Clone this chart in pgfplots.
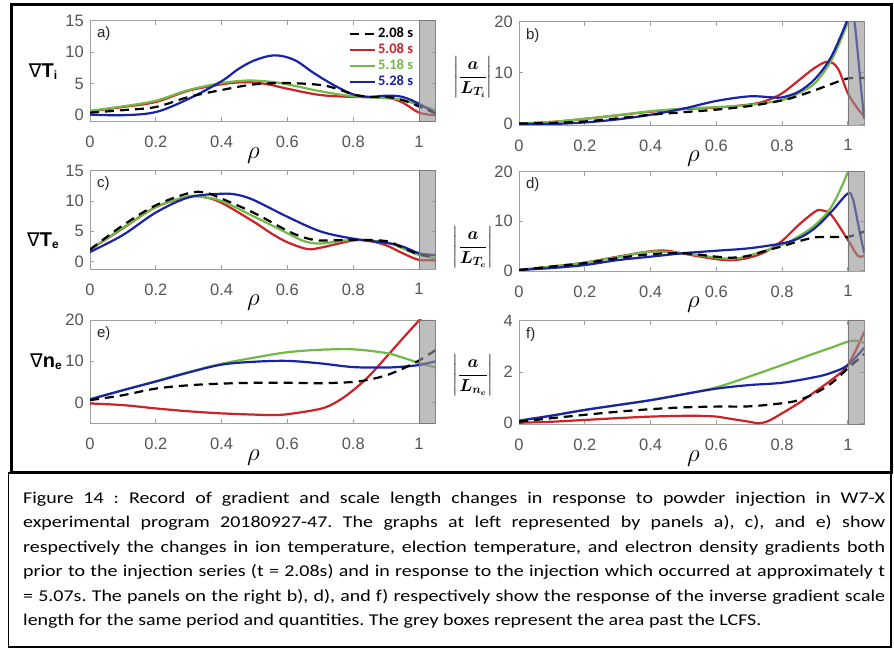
\documentclass[border=0pt]{standalone}
\usepackage{amsmath}
\usepackage{fontspec}
\setmainfont{Liberation Sans}
\newfontfamily\carlito{Carlito}
\newfontfamily\carlitowide[FakeStretch=1.21]{Carlito}
\newfontfamily\dejavu{DejaVu Sans}
\usepackage{pgfplots}
\pgfplotsset{compat=1.18}
\frenchspacing

\definecolor{cRed}{RGB}{205,35,40}
\definecolor{cGreen}{RGB}{115,185,70}
\definecolor{cBlue}{RGB}{25,35,165}
\definecolor{cBox}{RGB}{147,147,147}
\definecolor{cBoxEdge}{RGB}{120,120,120}
\definecolor{cAxis}{RGB}{160,160,160}
\definecolor{cTick}{RGB}{85,85,85}

\newcommand\capfont{\carlitowide\fontsize{16.5}{20}\selectfont}

\pgfplotsset{
  panel/.style={
    scale only axis,
    anchor=north west,
    xmin=0, xmax=1.05,
    xtick={0,0.2,0.4,0.6,0.8,1},
    tick align=inside,
    major tick length=4pt,
    axis line style={cAxis, line width=0.8pt},
    every tick/.style={cAxis, line width=0.8pt},
    tick label style={font=\fontsize{16.5}{16.5}\selectfont, text=cTick},
    /pgf/number format/assume math mode=true,
    xticklabel style={yshift=-11pt},
    yticklabel style={xshift=-2.7pt},
    xlabel={$\rho$},
    xlabel style={font=\fontsize{28}{28}\selectfont, anchor=base, yshift=-37pt},
    clip mode=individual,
  },
  leftpanel/.style={panel, width=345.5pt,
    xlabel style={at={(axis description cs:0.473,0)}}},
  rightpanel/.style={panel, width=345.3pt,
    xlabel style={at={(axis description cs:0.505,0)}}},
  curve/.style={line width=2.2pt, smooth, tension=0.55},
  s208/.style={curve, black, dash pattern=on 9pt off 6pt},
  s508/.style={curve, cRed},
  s518/.style={curve, cGreen},
  s528/.style={curve, cBlue},
  lcfs/.style={draw=cBoxEdge, line width=0.6pt, fill=cBox, fill opacity=0.6, forget plot, sharp plot},
}

\newcommand\panelletter[1]{\node[anchor=west, font=\fontsize{15}{15}\selectfont, text=black!85, inner sep=0]
  at (rel axis cs:0.02,0.87) {#1};}

\begin{document}
\begin{tikzpicture}
\useasboundingbox (0,0) rectangle (894pt,650pt);
\fill[white] (0,0) rectangle (894pt,650pt);

% ---------- a) ion temperature gradient ----------
\begin{axis}[leftpanel, at={(90pt,629.3pt)}, height=100.8pt,
  ymin=-1, ymax=15, ytick={0,5,10,15},
  legend style={draw=none, fill=none, at={(axis description cs:0.94,0.95)}, anchor=north east,
    font=\carlito\bfseries\fontsize{14.5}{14.5}\selectfont, inner sep=0pt,
    row sep=0pt, nodes={inner sep=1.5pt, text height=10pt, text depth=3pt}},
  legend cell align=left,
  legend image code/.code={\draw[#1] (0pt,0pt) -- (25pt,0pt);},
]
\addlegendimage{s208}\addlegendentry{2.08 s}
\addlegendimage{s508}\addlegendentry{\textcolor{cRed}{5.08 s}}
\addlegendimage{s518}\addlegendentry{\textcolor{cGreen}{5.18 s}}
\addlegendimage{s528}\addlegendentry{\textcolor{cBlue}{5.28 s}}
\addplot[s508, forget plot] coordinates {(0,0.6)(0.1,1.3)(0.2,2.1)(0.3,3.9)(0.4,4.9)(0.45,5.2)(0.5,5.2)(0.55,4.8)(0.6,4.2)(0.7,3.2)(0.8,2.9)(0.9,2.8)(0.95,2.0)(1.0,0.4)(1.05,0.0)};
\addplot[s518, forget plot] coordinates {(0,0.7)(0.1,1.4)(0.2,2.3)(0.3,4.0)(0.4,5.1)(0.48,5.5)(0.55,5.3)(0.6,4.9)(0.7,3.8)(0.8,3.0)(0.9,2.7)(0.95,2.4)(1.0,1.6)(1.05,0.8)};
\addplot[s528, forget plot] coordinates {(0,0.1)(0.1,0.0)(0.2,0.5)(0.3,2.6)(0.4,5.4)(0.45,7.3)(0.5,8.7)(0.56,9.5)(0.62,8.8)(0.68,6.7)(0.74,4.8)(0.8,3.3)(0.85,2.9)(0.9,3.1)(0.95,2.9)(1.0,1.8)(1.05,0.3)};
\addplot[s208, forget plot] coordinates {(0,0.4)(0.1,0.8)(0.2,1.3)(0.3,2.9)(0.4,4.0)(0.5,4.9)(0.6,5.1)(0.7,4.8)(0.75,4.2)(0.8,3.3)(0.85,2.9)(0.9,2.9)(0.95,2.4)(1.0,1.4)(1.05,0.3)};
\addplot[lcfs] coordinates {(1,-1)(1.05,-1)(1.05,15)(1,15)(1,-1)};
\panelletter{a)}
\end{axis}

% ---------- b) inverse scale length, ion temperature ----------
\begin{axis}[rightpanel, at={(519pt,628.3pt)}, height=103.3pt,
  ymin=-0.2, ymax=20, ytick={0,10,20}]
\addplot[s508] coordinates {(0,0.1)(0.1,0.4)(0.2,1.0)(0.3,1.7)(0.4,2.4)(0.5,2.9)(0.6,3.2)(0.7,3.8)(0.75,4.5)(0.8,6.0)(0.85,8.5)(0.9,11.0)(0.94,12.2)(0.97,10.8)(1.0,6.0)(1.03,3.0)(1.05,1.5)};
\addplot[s518] coordinates {(0,0.1)(0.1,0.4)(0.2,1.0)(0.3,1.7)(0.4,2.5)(0.5,3.0)(0.6,3.3)(0.7,3.7)(0.8,4.7)(0.85,6.0)(0.9,8.0)(0.95,12.5)(1.0,20)(1.02,26)};
\addplot[s528] coordinates {(0,0.0)(0.1,0.0)(0.2,0.3)(0.3,0.9)(0.4,1.8)(0.5,3.0)(0.6,4.5)(0.7,5.4)(0.77,5.2)(0.8,5.2)(0.85,6.3)(0.9,8.8)(0.95,13.2)(1.0,20.5)(1.01,22)(1.02,20)(1.03,14)(1.04,7)(1.05,1)};
\addplot[s208] coordinates {(0,0.1)(0.1,0.2)(0.2,0.5)(0.3,1.1)(0.4,1.8)(0.5,2.3)(0.6,2.8)(0.7,3.5)(0.8,4.6)(0.85,5.5)(0.9,6.6)(0.95,7.8)(1.0,8.9)(1.05,9.0)};
\addplot[lcfs] coordinates {(1,-0.2)(1.05,-0.2)(1.05,20)(1,20)(1,-0.2)};
\panelletter{b)}
\end{axis}

% ---------- c) electron temperature gradient ----------
\begin{axis}[leftpanel, at={(90pt,479.3pt)}, height=98.3pt,
  ymin=-1.2, ymax=15, ytick={0,5,10,15}]
\addplot[s508] coordinates {(0,2.0)(0.1,5.5)(0.2,9.0)(0.3,10.7)(0.35,10.6)(0.4,9.7)(0.5,6.5)(0.55,4.7)(0.6,3.2)(0.66,2.1)(0.7,2.3)(0.8,3.5)(0.85,3.4)(0.9,2.7)(0.95,1.4)(1.0,0.3)(1.05,0.3)};
\addplot[s518] coordinates {(0,2.0)(0.1,5.6)(0.2,9.0)(0.3,10.8)(0.35,10.6)(0.4,10.0)(0.5,7.4)(0.6,4.7)(0.65,3.4)(0.7,3.0)(0.8,3.6)(0.9,3.2)(0.95,2.2)(1.0,1.1)(1.05,0.6)};
\addplot[s528] coordinates {(0,1.6)(0.1,4.4)(0.2,8.1)(0.3,10.6)(0.4,11.2)(0.45,11.0)(0.5,10.1)(0.6,7.4)(0.7,5.0)(0.8,3.8)(0.9,3.1)(0.95,2.5)(1.0,1.4)(1.05,1.1)};
\addplot[s208] coordinates {(0,2.0)(0.1,6.0)(0.2,9.3)(0.3,11.3)(0.35,11.4)(0.4,10.4)(0.5,8.0)(0.6,5.1)(0.65,4.0)(0.7,3.5)(0.8,3.6)(0.9,3.4)(0.95,2.3)(1.0,1.2)(1.05,0.8)};
\addplot[lcfs] coordinates {(1,-1.2)(1.05,-1.2)(1.05,15)(1,15)(1,-1.2)};
\panelletter{c)}
\end{axis}

% ---------- d) inverse scale length, electron temperature ----------
\begin{axis}[rightpanel, at={(519pt,478.3pt)}, height=99.3pt,
  ymin=-0.1, ymax=20, ytick={0,10,20}]
\addplot[s508] coordinates {(0,0.1)(0.1,0.8)(0.2,1.6)(0.3,2.8)(0.4,3.9)(0.45,4.0)(0.5,3.4)(0.6,2.3)(0.65,2.1)(0.7,2.6)(0.75,3.8)(0.8,6.0)(0.85,9.2)(0.9,11.9)(0.92,12.2)(0.95,11.2)(1.0,6.2)(1.03,3.0)(1.05,3.0)};
\addplot[s518] coordinates {(0,0.1)(0.1,0.8)(0.2,1.6)(0.3,2.7)(0.4,3.8)(0.5,3.5)(0.6,2.6)(0.65,2.4)(0.7,3.0)(0.8,5.2)(0.85,6.9)(0.9,9.2)(0.95,12.9)(1.0,20)(1.02,26)};
\addplot[s528] coordinates {(0,0.1)(0.1,0.5)(0.2,1.1)(0.3,2.1)(0.4,2.8)(0.5,3.5)(0.6,4.0)(0.7,4.5)(0.8,5.5)(0.85,6.5)(0.9,8.6)(0.95,11.9)(1.0,15.6)(1.015,14.5)(1.025,11.5)(1.04,6.5)(1.05,3.5)};
\addplot[s208] coordinates {(0,0.1)(0.1,0.8)(0.2,1.5)(0.3,2.5)(0.4,3.3)(0.5,3.5)(0.6,2.8)(0.65,2.6)(0.7,3.0)(0.75,4.0)(0.8,4.9)(0.85,5.9)(0.9,6.7)(0.95,6.8)(1.0,6.8)(1.05,7.9)};
\addplot[lcfs] coordinates {(1,-0.1)(1.05,-0.1)(1.05,20)(1,20)(1,-0.1)};
\panelletter{d)}
\end{axis}

% ---------- e) electron density gradient ----------
\begin{axis}[leftpanel, at={(90pt,330pt)}, height=103.3pt,
  ymin=-5, ymax=20, ytick={0,10,20}]
\addplot[s508] coordinates {(0,-0.2)(0.1,-0.6)(0.2,-1.4)(0.3,-2.1)(0.4,-2.6)(0.5,-2.9)(0.55,-3.0)(0.6,-2.8)(0.7,-1.5)(0.75,0.2)(0.8,3.0)(0.85,6.6)(0.9,11.0)(0.95,15.5)(1.0,19.9)(1.03,22.5)};
\addplot[s518] coordinates {(0,0.8)(0.1,3.0)(0.2,5.2)(0.3,7.4)(0.4,9.4)(0.5,10.9)(0.6,12.2)(0.7,12.8)(0.8,12.9)(0.9,12.0)(0.95,10.9)(1.0,9.6)(1.05,8.5)};
\addplot[s528] coordinates {(0,0.8)(0.1,3.0)(0.2,5.1)(0.3,7.3)(0.4,9.2)(0.5,9.9)(0.6,10.1)(0.7,9.5)(0.8,8.6)(0.9,8.5)(0.95,8.7)(1.0,9.1)(1.05,10.0)};
\addplot[s208] coordinates {(0,0.6)(0.1,1.8)(0.2,3.4)(0.3,4.2)(0.4,4.6)(0.5,4.8)(0.6,4.8)(0.7,4.7)(0.8,5.0)(0.85,5.6)(0.9,6.6)(0.95,8.2)(1.0,10.2)(1.05,12.7)};
\addplot[lcfs] coordinates {(1,-5)(1.05,-5)(1.05,20)(1,20)(1,-5)};
\panelletter{e)}
\end{axis}

% ---------- f) inverse scale length, electron density ----------
\begin{axis}[rightpanel, at={(519pt,329.3pt)}, height=103.6pt,
  ymin=-0.04, ymax=4, ytick={0,2,4}]
\addplot[s508] coordinates {(0,0.02)(0.1,0.06)(0.2,0.13)(0.3,0.2)(0.4,0.26)(0.5,0.29)(0.55,0.29)(0.6,0.26)(0.65,0.16)(0.7,0.06)(0.73,0.0)(0.76,0.1)(0.8,0.39)(0.85,0.78)(0.9,1.23)(0.95,1.69)(1.0,2.27)(1.05,3.57)};
\addplot[s518] coordinates {(0,0.1)(0.1,0.3)(0.2,0.52)(0.3,0.71)(0.4,0.9)(0.5,1.13)(0.6,1.4)(0.7,1.82)(0.8,2.27)(0.9,2.73)(0.95,2.95)(1.0,3.18)(1.03,3.22)(1.05,3.12)};
\addplot[s528] coordinates {(0,0.1)(0.1,0.3)(0.2,0.52)(0.3,0.71)(0.4,0.9)(0.5,1.13)(0.6,1.35)(0.7,1.49)(0.8,1.58)(0.9,1.8)(0.95,1.97)(1.0,2.27)(1.05,2.95)};
\addplot[s208] coordinates {(0,0.06)(0.1,0.2)(0.2,0.33)(0.3,0.45)(0.4,0.55)(0.5,0.62)(0.6,0.65)(0.7,0.66)(0.8,0.78)(0.85,0.9)(0.9,1.17)(0.95,1.56)(1.0,2.14)(1.05,2.7)};
\addplot[lcfs] coordinates {(1,-0.04)(1.05,-0.04)(1.05,4)(1,4)(1,-0.04)};
\panelletter{f)}
\end{axis}

% ---------- y-axis quantities ----------
\newcommand\gradlab[2]{{\dejavu\fontsize{19}{19}\selectfont ∇}{\bfseries\fontsize{20}{20}\selectfont #1}\raisebox{-0.35ex}{\bfseries\fontsize{12}{12}\selectfont #2}}
\node at (43pt,578pt) {\gradlab{T}{i}};
\node at (43pt,409.3pt) {\gradlab{T}{e}};
\node at (46pt,288.3pt) {\gradlab{n}{e}};
\node at (473pt,573pt) {\fontsize{17}{17}\selectfont $\left|\dfrac{\boldsymbol{a}}{\boldsymbol{L}_{\boldsymbol{T_i}}}\right|$};
\node at (473pt,403pt) {\fontsize{17}{17}\selectfont $\left|\dfrac{\boldsymbol{a}}{\boldsymbol{L}_{\boldsymbol{T_e}}}\right|$};
\node at (473pt,275pt) {\fontsize{17}{17}\selectfont $\left|\dfrac{\boldsymbol{a}}{\boldsymbol{L}_{\boldsymbol{n_e}}}\right|$};

% ---------- frames ----------
\draw[line width=3pt] (11.5pt,645.5pt) rectangle (891.5pt,177pt);
\draw[line width=1.5pt] (8.5pt,177pt) rectangle (891pt,3pt);

% ---------- caption ----------
\node[anchor=base west, inner sep=0] at (23pt,146.5pt) {\makebox[862pt][s]{\capfont Figure 14 : Record of gradient and scale length changes in response to powder injection in W7-X}};
\node[anchor=base west, inner sep=0] at (23pt,122pt) {\makebox[862pt][s]{\capfont experimental program 20180927-47. The graphs at left represented by panels a), c), and e) show}};
\node[anchor=base west, inner sep=0] at (23pt,97.5pt) {\makebox[862pt][s]{\capfont respectively the changes in ion temperature, election temperature, and electron density gradients both}};
\node[anchor=base west, inner sep=0] at (23pt,73pt) {\makebox[862pt][s]{\capfont prior to the injection series (t = 2.08s) and in response to the injection which occurred at approximately t}};
\node[anchor=base west, inner sep=0] at (23pt,48.5pt) {\makebox[862pt][s]{\capfont = 5.07s. The panels on the right b), d), and f) respectively show the response of the inverse gradient scale}};
\node[anchor=base west, inner sep=0] at (23pt,24pt) {\capfont length for the same period and quantities. The grey boxes represent the area past the LCFS.};
\end{tikzpicture}
\end{document}
